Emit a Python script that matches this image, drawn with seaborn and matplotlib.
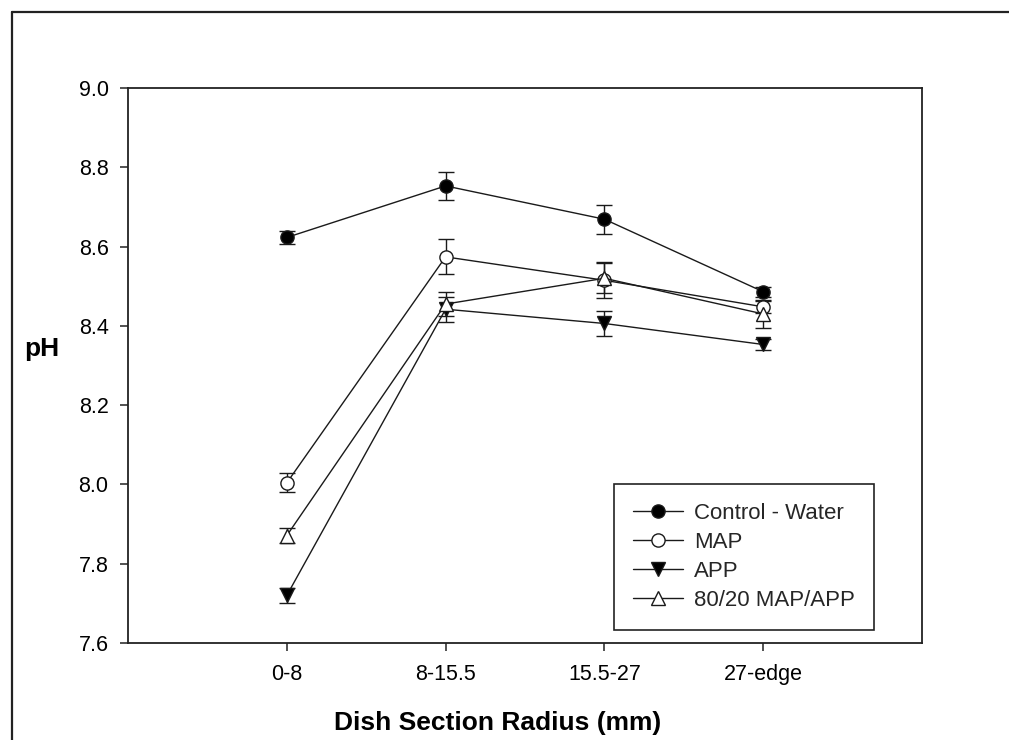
import numpy as np
import pandas as pd
import matplotlib
matplotlib.use("Agg")
import matplotlib.pyplot as plt
from matplotlib.lines import Line2D
import seaborn as sns

# ---------------- data ----------------
categories = ["0-8", "8-15.5", "15.5-27", "27-edge"]
series_names = ["Control - Water", "MAP", "APP", "80/20 MAP/APP"]

control_vals = [8.623, 8.753, 8.669, 8.486]
control_err = [0.017, 0.036, 0.037, 0.013]
map_vals = [8.004, 8.574, 8.515, 8.448]
map_err = [0.024, 0.044, 0.045, 0.015]
app_vals = [7.720, 8.442, 8.406, 8.353]
app_err = [0.020, 0.032, 0.031, 0.013]
blend_vals = [7.871, 8.455, 8.520, 8.430]
blend_err = [0.018, 0.031, 0.038, 0.035]

y_ticks = [7.6, 7.8, 8.0, 8.2, 8.4, 8.6, 8.8, 9.0]

# ---------------- styling ----------------
sns.set_theme(style="white")
plt.rcParams["font.family"] = ["Liberation Sans", "DejaVu Sans"]

values = [control_vals, map_vals, app_vals, blend_vals]
errors = [control_err, map_err, app_err, blend_err]
markers = ["o", "o", "v", "^"]
faces = ["black", "white", "black", "white"]
msizes = [9.5, 9.5, 10, 10]

df = pd.DataFrame({
    "radius": categories * len(series_names),
    "pH": sum(values, []),
    "err": sum(errors, []),
    "series": np.repeat(series_names, len(categories)),
})

fig = plt.figure(figsize=(10.09, 7.40), dpi=100)
ax = fig.add_axes([128 / 1009, 1 - 643 / 740, 794 / 1009, 555 / 740])

line_col = "#1a1a1a"
for name, mk, fc, ms in zip(series_names, markers, faces, msizes):
    sub = df[df["series"] == name]
    ax.errorbar(sub["radius"], sub["pH"], yerr=sub["err"], fmt="none",
                ecolor=line_col, elinewidth=1.0, capsize=6, capthick=1.0, zorder=2)
    sns.lineplot(data=sub, x="radius", y="pH", ax=ax, sort=False,
                 color=line_col, linewidth=1.0, marker=mk, markersize=ms,
                 markerfacecolor=fc, markeredgecolor=line_col, markeredgewidth=1.0,
                 label=name, zorder=3)

ax.set_xlim(-1, 4)
ax.set_ylim(7.6, 9.0)
ax.set_yticks(y_ticks)
ax.set_yticklabels([f"{v:.1f}" for v in y_ticks])

for s in ax.spines.values():
    s.set_visible(True)
    s.set_color("#222222")
    s.set_linewidth(1.3)

ax.tick_params(axis="both", which="major", direction="out", length=6, width=1.1,
               color="#222222", labelsize=15.5, labelcolor="black",
               bottom=True, left=True, top=False, right=False, pad=8)
ax.tick_params(axis="x", pad=9)

ax.set_xlabel("Dish Section Radius (mm)", fontsize=19, fontweight="bold", color="black")
ax.xaxis.set_label_coords((498 - 128) / 794, (643 - 723) / 555)
ax.xaxis.label.set_va("center")
ax.set_ylabel("pH", fontsize=19, fontweight="bold", color="black", rotation=0)
ax.yaxis.set_label_coords((41.5 - 128) / 794, (643 - 349) / 555)
ax.yaxis.label.set_va("center")
ax.yaxis.label.set_ha("center")

leg = ax.legend(loc="lower right",
                bbox_to_anchor=((874 - 128) / 794, (643 - 630) / 555),
                borderaxespad=0, frameon=True, fancybox=False, fontsize=16,
                handlelength=2.25, handletextpad=0.5, labelspacing=0.36,
                borderpad=0.85, edgecolor="#222222")
leg.get_frame().set_linewidth(1.2)
leg.get_frame().set_facecolor("white")
leg.get_frame().set_alpha(1)

# outer frame (left and top edges visible)
fx = 11.5 / 1009
fy = 1 - 12 / 740
fig.add_artist(Line2D([fx, fx], [0, fy], transform=fig.transFigure,
                      color="#222222", linewidth=1.6))
fig.add_artist(Line2D([fx, 1], [fy, fy], transform=fig.transFigure,
                      color="#222222", linewidth=1.6))

fig.savefig("out.png", dpi=100, facecolor="white")
